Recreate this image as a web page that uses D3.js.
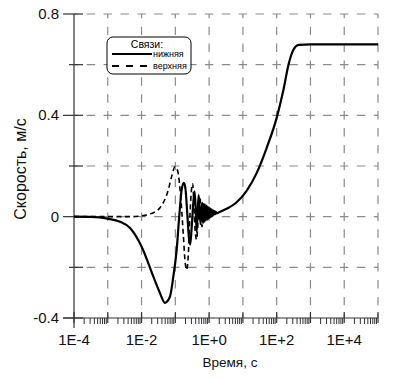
<!DOCTYPE html>
<html><head><meta charset="utf-8">
<script src="https://cdn.jsdelivr.net/npm/d3@7"></script>
<style>body{margin:0;background:#fff}svg{display:block;font-family:"Liberation Sans",Arial,sans-serif}</style>
</head><body><svg id="c" width="400" height="378"></svg>
<script>
// ---- data (log10 of time in s, velocity m/s) ----
const lowerLogT = [-4,-3.5,-3,-2.64,-2.34,-2,-1.65,-1.46,-1.31,-1.16,-1.06,-0.96,-0.885,-0.814,-0.746,-0.70,-0.65,-0.60,-0.56,-0.52,-0.47,-0.43,-0.40,-0.37,-0.34,-0.31,-0.28,-0.25,-0.22,-0.20,-0.18,-0.16,-0.14,-0.12,-0.10,-0.08,-0.06,-0.04,-0.02,0.00,0.02,0.04,0.06,0.08,0.10,0.12,0.14,0.16,0.18,0.20,0.23,0.28,0.5,0.8,1.1,1.4,1.7,2.0,2.2,2.35,2.5,2.65,3,4,5];
const lowerV    = [0,-0.001,-0.008,-0.02,-0.045,-0.118,-0.237,-0.30,-0.34,-0.316,-0.237,-0.13,0,0.105,0.133,0.11,0.02,-0.08,-0.11,-0.05,0.05,0.10,0.04,-0.06,0.01,0.085,0.02,-0.03,0.04,0.055,-0.025,0.05,-0.02,0.048,-0.015,0.044,-0.012,0.04,-0.008,0.036,-0.004,0.032,0.0,0.028,0.004,0.025,0.007,0.022,0.01,0.019,0.013,0.016,0.03,0.055,0.10,0.17,0.27,0.39,0.50,0.60,0.66,0.678,0.68,0.68,0.68];
const upperLogT = [-4,-3,-2.3,-2,-1.7,-1.46,-1.21,-1.11,-1.01,-0.93,-0.834,-0.766,-0.716,-0.666,-0.62,-0.57,-0.52,-0.488,-0.45,-0.41,-0.37,-0.33,-0.30,-0.27,-0.24,-0.21,-0.18,-0.15,-0.12,-0.09,-0.06,-0.03,0.0,0.05,0.10,0.16,0.2];
const upperV    = [0,0,0,0.003,0.013,0.034,0.105,0.158,0.197,0.18,0.066,-0.066,-0.17,-0.21,-0.16,0.0,0.11,0.13,0.05,-0.06,-0.09,-0.02,0.07,0.08,0.0,-0.04,0.0,0.05,0.01,0.04,0.0,0.03,0.01,0.02,0.012,0.016,0.015];
const xTickVals = [1e-4,1e-2,1e0,1e2,1e4];
const xTickLabels = ["1E-4","1E-2","1E+0","1E+2","1E+4"];
const yTickVals = [-0.4,0,0.4,0.8];
const yTickLabels = ["-0.4","0","0.4","0.8"];
const legendLabels = ["нижняя","верхняя"];

const svg = d3.select("#c");
const x = d3.scaleLog().domain([1e-4,1e5]).range([74,378]);
const y = d3.scaleLinear().domain([-0.4,0.8]).range([318,14]);
const X0=x.range()[0], X1=x.range()[1], Y0=y.range()[0], Y1=y.range()[1];

// grid
const decadePx = x(10)-x(1);
const per = decadePx/2, dash = per*0.5;
const gridCol="#8a8a8a";
const decades = d3.range(-3,6).map(e=>Math.pow(10,e));
svg.append("g").selectAll("line").data(decades).join("line")
  .attr("x1",d=>x(d)).attr("x2",d=>x(d)).attr("y1",Y0).attr("y2",Y1)
  .attr("stroke",gridCol).attr("stroke-width",1.2)
  .attr("stroke-dasharray",`${dash},${per-dash}`).attr("stroke-dashoffset",dash/2);
const yGrid = d3.range(-0.2,0.81,0.2);
svg.append("g").selectAll("line").data(yGrid).join("line")
  .attr("x1",X0).attr("x2",X1).attr("y1",d=>y(d)).attr("y2",d=>y(d))
  .attr("stroke",gridCol).attr("stroke-width",1.2)
  .attr("stroke-dasharray",`${dash},${per-dash}`).attr("stroke-dashoffset",dash/2);

// axes
const axCol="#333";
svg.append("line").attr("x1",X0).attr("x2",X0).attr("y1",Y1).attr("y2",Y0+10).attr("stroke",axCol).attr("stroke-width",1.2);
svg.append("line").attr("x1",X0-11).attr("x2",X1).attr("y1",Y0).attr("y2",Y0).attr("stroke",axCol).attr("stroke-width",1.2);
// y ticks
const yMaj = d3.range(-0.4,0.81,0.4), yMin = d3.range(-0.2,0.81,0.4);
svg.append("g").selectAll("line").data(yMaj).join("line")
  .attr("x1",X0-11).attr("x2",X0+9).attr("y1",d=>y(d)).attr("y2",d=>y(d)).attr("stroke",axCol).attr("stroke-width",1.2);
svg.append("g").selectAll("line").data(yMin).join("line")
  .attr("x1",X0-5).attr("x2",X0+9).attr("y1",d=>y(d)).attr("y2",d=>y(d)).attr("stroke",axCol).attr("stroke-width",1.2);
// x ticks
const xMaj = d3.range(-4,6).map(e=>Math.pow(10,e));
svg.append("g").selectAll("line").data(xMaj).join("line")
  .attr("x1",d=>x(d)).attr("x2",d=>x(d)).attr("y1",Y0-6).attr("y2",Y0+5).attr("stroke",axCol).attr("stroke-width",1.2);
const xMin = [];
d3.range(-4,5).forEach(e=>{for(let k=2;k<10;k++) xMin.push(k*Math.pow(10,e));});
svg.append("g").selectAll("line").data(xMin).join("line")
  .attr("x1",d=>x(d)).attr("x2",d=>x(d)).attr("y1",Y0).attr("y2",Y0+6).attr("stroke",axCol).attr("stroke-width",1);

// tick labels
svg.append("g").selectAll("text").data(xTickVals).join("text")
  .attr("x",d=>x(d)).attr("y",Y0+27).attr("text-anchor","middle")
  .attr("font-size",15).attr("fill","#111").text((d,i)=>xTickLabels[i]);
svg.append("g").selectAll("text").data(yTickVals).join("text")
  .attr("x",X0-15).attr("y",d=>y(d)+5).attr("text-anchor","end")
  .attr("font-size",15).attr("fill","#111").text((d,i)=>yTickLabels[i]);

// titles
svg.append("text").attr("x",(X0+X1)/2+4).attr("y",367).attr("text-anchor","middle")
  .attr("font-size",13.5).attr("fill","#111").text("Время, с");
svg.append("text").attr("transform",`translate(26,169) rotate(-90)`).attr("text-anchor","middle")
  .attr("font-size",16).attr("fill","#111").text("Скорость, м/с");

// curves
const line = d3.line().x(d=>x(Math.pow(10,d[0]))).y(d=>y(d[1])).curve(d3.curveMonotoneX);
const lowerData = lowerLogT.map((t,i)=>[t,lowerV[i]]);
const upperData = upperLogT.map((t,i)=>[t,upperV[i]]);
svg.append("path").attr("d",line(upperData)).attr("fill","none").attr("stroke","#000")
  .attr("stroke-width",1.6).attr("stroke-dasharray","5,3.5");
svg.append("path").attr("d",line(lowerData)).attr("fill","none").attr("stroke","#000")
  .attr("stroke-width",2.2);

// legend
const lg = svg.append("g");
lg.append("rect").attr("x",107).attr("y",37).attr("width",84).attr("height",37).attr("rx",6)
  .attr("fill","#fff").attr("stroke","#000").attr("stroke-width",1);
lg.append("text").attr("x",147).attr("y",48).attr("text-anchor","middle").attr("font-size",10.5).text("Связи:");
lg.append("line").attr("x1",112).attr("x2",152).attr("y1",54).attr("y2",54).attr("stroke","#000").attr("stroke-width",2);
lg.append("line").attr("x1",112).attr("x2",152).attr("y1",66).attr("y2",66).attr("stroke","#000").attr("stroke-width",2).attr("stroke-dasharray","7,7");
lg.selectAll("text.it").data(legendLabels).join("text").attr("class","it")
  .attr("x",153).attr("y",(d,i)=>57+i*12).attr("font-size",9).text(d=>d);
</script></body></html>
